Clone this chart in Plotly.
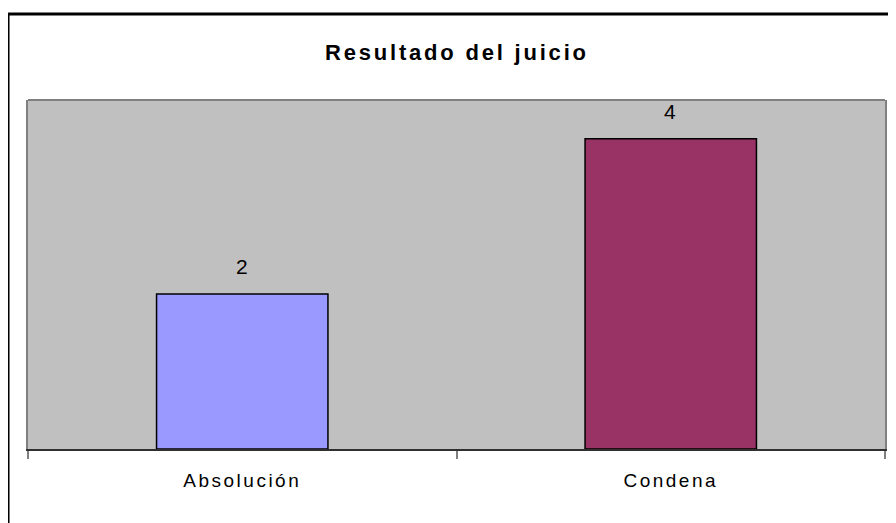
import plotly.graph_objects as go

categories = ["Absolución", "Condena"]
values = [2, 4]
colors = ["#9999FF", "#993366"]
title_text = "Resultado del juicio"

# the page body adds an 8px offset; size the figure to fit the window
OFF = 8
W, H = 896 - OFF, 523 - OFF
ml, mt = 28 - OFF, 100 - OFF
mr = W - (887 - OFF)
mb = H - (449 - OFF)
pw, ph = W - ml - mr, H - mt - mb

def px_x(x):
    return (x - OFF - ml) / pw

def px_y(y):
    return (H - mb - (y - OFF)) / ph

FONT = "Liberation Sans, Arial"

fig = go.Figure()
fig.add_trace(go.Bar(
    x=categories, y=values, width=0.4,
    marker=dict(color=colors, line=dict(color="black", width=1.5)),
    hoverinfo="skip",
))

for c, v in zip(categories, values):
    fig.add_annotation(x=c, y=v, xref="x", yref="y",
                       text="<span style='letter-spacing:1px'>" + str(v) + "</span>",
                       showarrow=False, yanchor="bottom", yshift=14,
                       font=dict(family=FONT, size=21, color="black"))

fig.add_annotation(x=0.5, y=px_y(52), xref="paper", yref="paper",
                   text="<b><span style='letter-spacing:2.8px'>" + title_text + "</span></b>",
                   showarrow=False, xanchor="center", yanchor="middle",
                   font=dict(family=FONT, size=22, color="black"))

# plot area top border
fig.add_shape(type="line", xref="paper", yref="paper", x0=0, x1=1, y0=1, y1=1,
              line=dict(color="#808080", width=2))
# outer chart border (top and left visible)
fig.add_shape(type="line", xref="paper", yref="paper",
              x0=px_x(8), x1=px_x(905), y0=px_y(14), y1=px_y(14),
              line=dict(color="black", width=3))
fig.add_shape(type="line", xref="paper", yref="paper",
              x0=px_x(8), x1=px_x(8), y0=px_y(14), y1=px_y(540),
              line=dict(color="black", width=3))

fig.update_layout(
    width=W, height=H,
    margin=dict(l=ml, r=mr, t=mt, b=mb),
    paper_bgcolor="white", plot_bgcolor="#C0C0C0",
    showlegend=False,
    xaxis=dict(
        type="category", tickson="boundaries", ticks="outside", ticklen=8,
        tickwidth=2, tickcolor="#808080",
        showline=True, linecolor="#303030", linewidth=2,
        showgrid=False, zeroline=False,
        tickvals=categories,
        ticktext=["<span style='letter-spacing:2.5px'>" + c + "</span>" for c in categories],
        tickfont=dict(family=FONT, size=19, color="black"),
        ticklabelstandoff=13,
        range=[-0.5, 1.5],
    ),
    yaxis=dict(
        range=[0, 4.5], showticklabels=False, ticks="", showgrid=False, zeroline=False,
        showline=True, linecolor="#808080", linewidth=2, mirror=True,
    ),
)

fig.write_html("out.html")
